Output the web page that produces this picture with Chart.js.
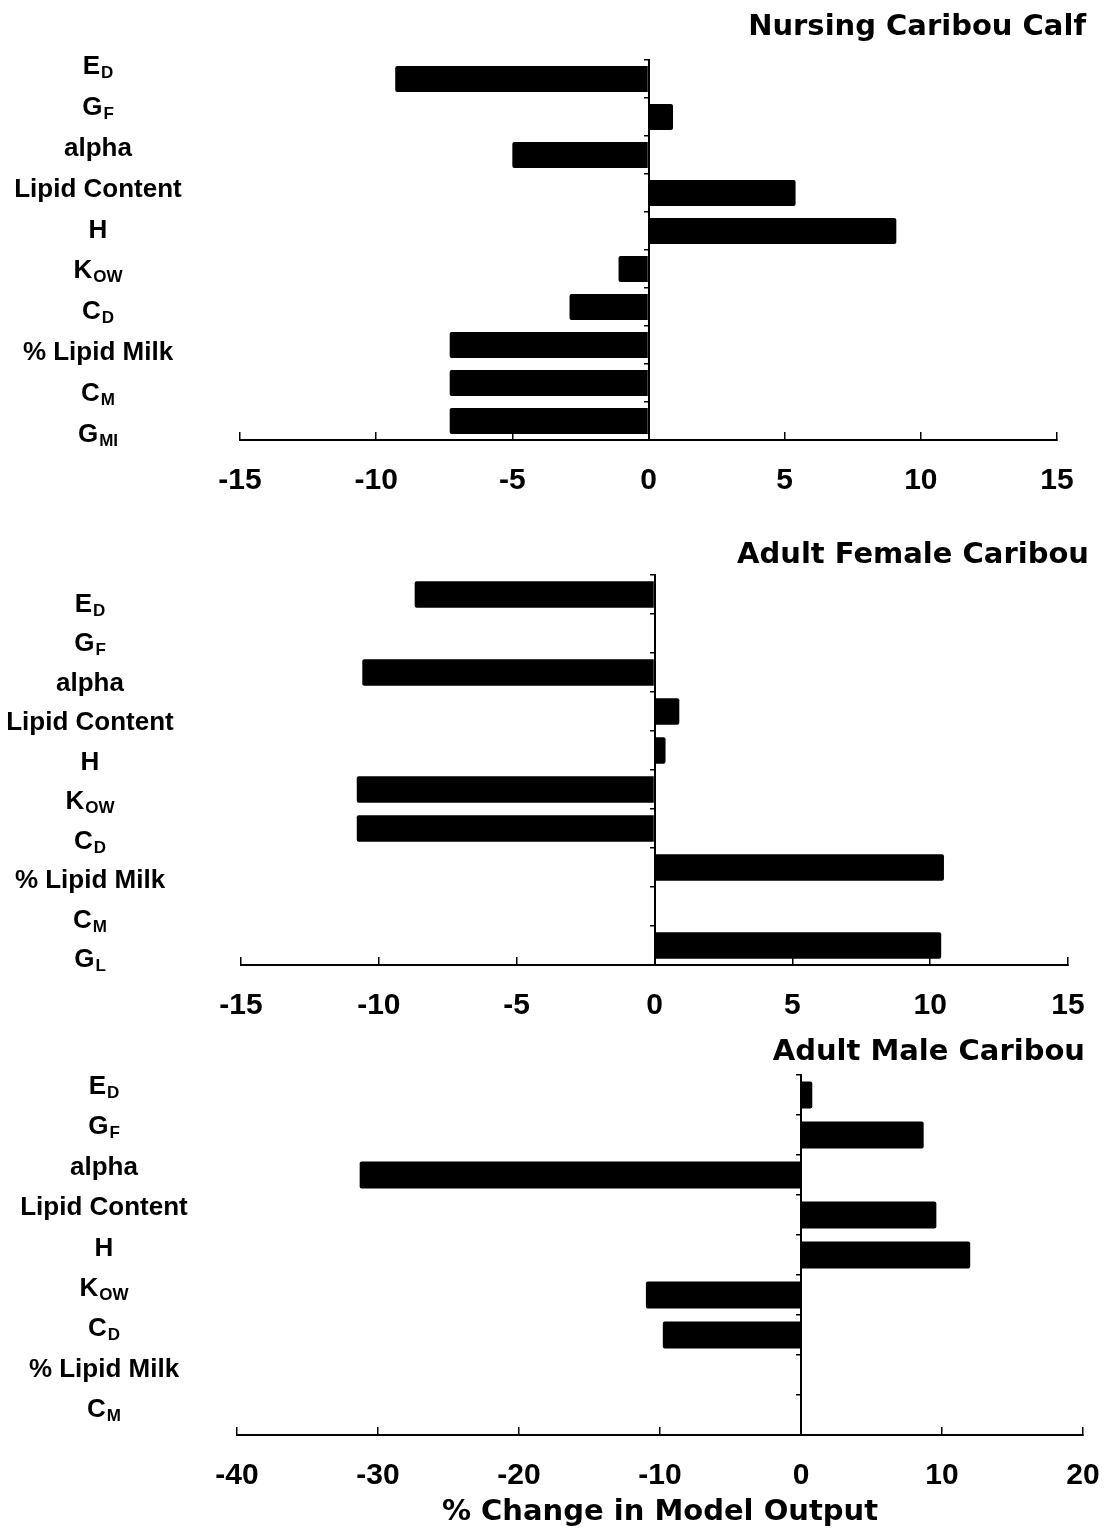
<!DOCTYPE html>
<html>
<head>
<meta charset="utf-8">
<script src="https://cdn.jsdelivr.net/npm/chart.js@4.4.1/dist/chart.umd.min.js"></script>
<style>
  body { margin: 0; background: #fff; }
  #page { position: relative; width: 1106px; height: 1530px; }
  .panel { position: absolute; left: 0; width: 1106px; }
</style>
</head>
<body>
<div id="page">
  <div class="panel" style="top:0;height:505px"><canvas id="calf"></canvas></div>
  <div class="panel" style="top:505px;height:520px"><canvas id="female"></canvas></div>
  <div class="panel" style="top:1025px;height:505px"><canvas id="male"></canvas></div>
</div>
<script>
// model parameters; text after "_" is drawn as a subscript
const calfParams = ['E_D', 'G_F', 'alpha', 'Lipid Content', 'H', 'K_OW', 'C_D', '% Lipid Milk', 'C_M', 'G_MI'];
const calfChange = [-9.3, 0.9, -5.0, 5.4, 9.1, -1.1, -2.9, -7.3, -7.3, -7.3];

const femaleParams = ['E_D', 'G_F', 'alpha', 'Lipid Content', 'H', 'K_OW', 'C_D', '% Lipid Milk', 'C_M', 'G_L'];
const femaleChange = [-8.7, 0, -10.6, 0.9, 0.4, -10.8, -10.8, 10.5, 0, 10.4];

const maleParams = ['E_D', 'G_F', 'alpha', 'Lipid Content', 'H', 'K_OW', 'C_D', '% Lipid Milk', 'C_M'];
const maleChange = [0.8, 8.7, -31.3, 9.6, 12.0, -11.0, -9.8, 0, 0];

const calfTicks = [-15, -10, -5, 0, 5, 10, 15];
const femaleTicks = [-15, -10, -5, 0, 5, 10, 15];
const maleTicks = [-40, -30, -20, -10, 0, 10, 20];

const xAxisTitle = '% Change in Model Output';

Chart.defaults.font.family = '"Liberation Sans", Arial, sans-serif';
Chart.defaults.color = '#000';

const MAIN_FONT = 'bold 26px "Liberation Sans", Arial, sans-serif';
const SUB_FONT = 'bold 17px "Liberation Sans", Arial, sans-serif';
const TITLE_FONT = 'bold 29px "DejaVu Sans", sans-serif';

function drawParam(ctx, name, cx, cy) {
    const [main, sub] = name.split('_');
    ctx.font = MAIN_FONT;
    const w1 = ctx.measureText(main).width;
    let w2 = 0;
    if (sub) {
        ctx.font = SUB_FONT;
        w2 = ctx.measureText(sub).width + 1;
    }
    const x = cx - (w1 + w2) / 2;
    const base = cy + 9;
    ctx.textAlign = 'left';
    ctx.textBaseline = 'alphabetic';
    ctx.font = MAIN_FONT;
    ctx.fillText(main, x, base);
    if (sub) {
        ctx.font = SUB_FONT;
        ctx.fillText(sub, x + w1 + 1, base + 4);
    }
}

// parameter names down the left side plus the panel heading
const paramLabels = {
    id: 'paramLabels',
    afterDraw(chart, args, opts) {
        const { ctx, chartArea } = chart;
        const names = chart.data.labels;
        const y0 = chartArea.top + opts.span[0];
        const y1 = chartArea.bottom + opts.span[1];
        ctx.save();
        ctx.fillStyle = '#000';
        names.forEach((name, i) => {
            drawParam(ctx, name, opts.x, y0 + (y1 - y0) * i / (names.length - 1));
        });
        ctx.font = TITLE_FONT;
        ctx.textAlign = 'right';
        ctx.textBaseline = 'middle';
        ctx.fillText(opts.title, opts.titleRight, opts.titleY);
        ctx.restore();
    }
};

const panels = [
    { canvas: 'calf', title: 'Nursing Caribou Calf', params: calfParams, values: calfChange, ticks: calfTicks,
      height: 505, area: { left: 240, right: 1057, top: 60, bottom: 440 },
      titleY: 27, titleRight: 1086, labelX: 98, labelSpan: [5, -7] },
    { canvas: 'female', title: 'Adult Female Caribou', params: femaleParams, values: femaleChange, ticks: femaleTicks,
      height: 520, area: { left: 241, right: 1068, top: 70, bottom: 460 },
      titleY: 50, titleRight: 1089, labelX: 90, labelSpan: [28, -7] },
    { canvas: 'male', title: 'Adult Male Caribou', params: maleParams, values: maleChange, ticks: maleTicks,
      height: 505, area: { left: 237, right: 1083, top: 50, bottom: 410 },
      titleY: 27, titleRight: 1085, labelX: 104, labelSpan: [10, -27], axisTitle: xAxisTitle }
];

panels.forEach(p => {
    new Chart(document.getElementById(p.canvas), {
        type: 'bar',
        data: {
            labels: p.params,
            datasets: [{
                data: p.values,
                backgroundColor: '#000',
                borderWidth: 0,
                borderRadius: 2,
                barPercentage: 0.68,
                categoryPercentage: 1
            }]
        },
        options: {
            indexAxis: 'y',
            responsive: true,
            maintainAspectRatio: false,
            animation: false,
            layout: { padding: { left: p.area.left, right: 1106 - p.area.right, top: p.area.top, bottom: 0 } },
            plugins: {
                legend: { display: false },
                tooltip: { enabled: false },
                paramLabels: { span: p.labelSpan, x: p.labelX, title: p.title, titleRight: p.titleRight, titleY: p.titleY }
            },
            scales: {
                x: {
                    min: p.ticks[0],
                    max: p.ticks[p.ticks.length - 1],
                    afterBuildTicks: scale => { scale.ticks = p.ticks.map(v => ({ value: v })); },
                    afterFit: scale => { scale.height = p.height - p.area.bottom; },
                    // negative length turns the tick marks up into the plot
                    grid: { drawOnChartArea: false, tickLength: -8, color: '#000', lineWidth: 1.5 },
                    border: { color: '#000', width: 2 },
                    // tall line box pushes the numbers down without widening the side padding
                    ticks: { padding: 0, font: { size: 30, weight: 'bold', lineHeight: 3.27 }, maxRotation: 0, autoSkip: false },
                    title: {
                        display: !!p.axisTitle,
                        text: p.axisTitle || '',
                        font: { family: '"DejaVu Sans", sans-serif', size: 29, weight: 'bold' },
                        padding: { top: 0, bottom: 0 }
                    }
                },
                y: {
                    position: { x: 0 },
                    ticks: { display: false },
                    grid: { drawOnChartArea: false, tickLength: 4, color: '#000', lineWidth: 1.5 },
                    border: { color: '#000', width: 2 }
                }
            }
        },
        plugins: [paramLabels]
    });
});
</script>
</body>
</html>
